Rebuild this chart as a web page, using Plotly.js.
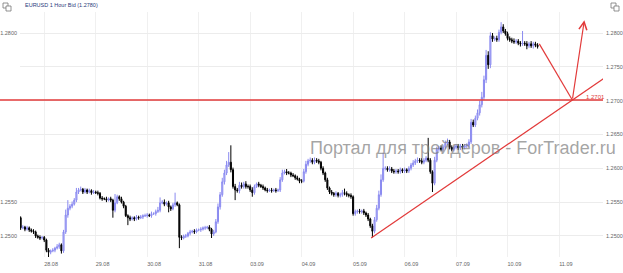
<!DOCTYPE html>
<html><head><meta charset="utf-8">
<script src="https://cdn.plot.ly/plotly-3.0.1.min.js"></script>
<style>html,body{margin:0;padding:0;background:#fff}#c{width:623px;height:273px}</style>
</head><body><div id="c"></div>
<script>
// Hourly closes, EURUSD, 27.08 13:00 -> 10.09 14:00
const closes=[
1.2512,1.2513,1.2510,1.2512,1.2509,1.2507,1.2506,1.2500,1.2498,1.2497,1.2498,
1.2494,1.2479,1.2476,1.2478,1.2479,1.2482,1.2484,1.2487,1.2478,1.2506,1.2531,1.2541,1.2544,1.2547,1.2553,1.2565,1.2568,1.2569,1.2565,1.2568,1.2565,1.2567,1.2564,1.2565,
1.2564,1.2563,1.2556,1.2555,1.2555,1.2553,1.2555,1.2553,1.2538,1.2549,1.2558,1.2555,1.2550,1.2544,1.2530,1.2527,1.2525,1.2527,1.2525,1.2528,1.2527,1.2528,1.2530,1.2530,
1.2531,1.2530,1.2533,1.2533,1.2536,1.2538,1.2549,1.2550,1.2547,1.2549,1.2543,1.2540,1.2546,1.2549,1.2546,1.2498,1.2497,1.2500,1.2500,1.2504,1.2506,1.2507,1.2506,1.2509,
1.2509,1.2510,1.2512,1.2512,1.2513,1.2510,1.2503,1.2506,1.2521,1.2543,1.2561,1.2580,1.2593,1.2605,1.2609,1.2598,1.2573,1.2568,1.2567,1.2575,1.2573,1.2577,1.2573,1.2573,
1.2568,1.2564,1.2573,1.2577,1.2575,1.2573,1.2571,1.2568,1.2567,1.2568,1.2567,1.2568,1.2567,1.2568,1.2583,1.2593,1.2595,1.2593,1.2593,1.2590,1.2589,1.2586,1.2584,1.2581,
1.2581,1.2595,1.2606,1.2611,1.2612,1.2609,1.2612,1.2611,1.2609,1.2600,1.2593,1.2583,1.2571,1.2565,1.2563,1.2561,1.2563,1.2560,1.2561,1.2564,1.2563,1.2561,1.2560,1.2558,
1.2533,1.2536,1.2537,1.2536,1.2537,1.2534,1.2531,1.2525,1.2515,1.2507,1.2524,1.2541,1.2561,1.2583,1.2600,1.2600,1.2598,1.2599,1.2596,1.2595,1.2596,1.2595,1.2598,1.2596,
1.2598,1.2596,1.2600,1.2605,1.2608,1.2611,1.2612,1.2611,1.2609,1.2612,1.2615,1.2612,1.2595,1.2578,1.2612,1.2628,1.2630,1.2628,1.2631,1.2637,1.2639,1.2631,1.2628,1.2631,
1.2633,1.2630,1.2633,1.2631,1.2633,1.2634,1.2639,1.2668,1.2664,1.2674,1.2682,1.2694,1.2705,1.2731,1.2767,1.2753,1.2796,1.2791,1.2792,1.2790,1.2801,1.2809,1.2803,1.2799,
1.2792,1.2790,1.2788,1.2787,1.2788,1.2785,1.2784,1.2785,1.2784,1.2781,1.2784,1.2781,1.2784,1.2782,1.2780];
const firstOpen=1.2527;
// upper / lower wicks in pips beyond the candle body
const upWick=[
2,3,2,3,2,2,3,2,2,3,2,
2,2,3,2,3,2,4,3,2,3,8,12,3,4,3,6,3,4,2,3,2,3,2,3,
2,3,2,3,2,3,2,3,2,13,3,2,3,2,2,2,3,2,2,3,2,3,2,3,
3,2,3,2,3,5,8,3,4,2,3,2,3,15,2,2,3,2,3,2,3,2,3,2,
2,3,2,3,2,3,2,3,4,5,4,6,5,6,15,25,3,4,3,5,4,3,4,3,
3,4,3,2,3,2,3,2,3,2,3,2,3,2,4,5,3,4,3,2,3,2,3,2,
3,4,5,3,4,3,4,3,3,2,3,2,3,2,3,2,3,2,3,4,6,3,2,3,
2,3,2,3,2,3,2,3,2,3,4,5,6,8,23,3,3,4,3,3,3,3,3,2,
3,2,3,3,4,3,4,3,4,3,3,30,3,2,5,4,3,4,3,4,5,3,3,3,
3,3,3,3,3,3,4,5,4,4,5,6,8,6,8,6,5,4,3,4,4,7,4,3,
3,3,3,4,3,3,3,18,3,4,3,4,3,3,3];
const dnWick=[
3,2,3,2,3,2,3,3,2,3,2,
3,3,9,3,2,3,2,3,4,3,3,4,3,3,2,3,3,2,3,2,3,2,3,2,
2,3,2,3,2,3,2,3,11,3,2,3,2,3,2,11,3,2,3,2,3,2,3,2,
3,2,3,2,3,2,3,2,3,2,8,3,2,3,2,16,3,2,3,2,3,2,3,2,
2,3,2,3,2,3,6,3,2,3,4,3,4,3,3,4,3,15,3,4,3,3,3,3,
3,6,3,2,3,2,3,2,3,2,3,2,3,2,3,3,2,3,2,3,2,3,2,3,
3,2,3,3,3,3,3,3,3,3,3,3,3,3,3,3,3,3,3,3,3,3,3,3,
3,3,3,3,3,3,3,3,3,9,3,3,3,3,3,3,3,3,3,3,3,3,3,3,
3,3,3,3,3,3,3,3,3,3,3,3,3,13,3,3,3,3,3,3,3,3,3,3,
3,3,3,3,3,3,3,3,3,3,3,4,4,4,5,6,5,4,3,3,3,3,3,3,
3,3,3,3,3,3,4,3,3,5,3,3,4,3,3];
const dayStarts=[11,35,59,83,107,131,155,179,203,227,251];
const dayLabels=['28.08','29.08','30.08','31.08','03.09','04.09','05.09','06.09','07.09','10.09','11.09'];
const priceTicks=[1.2500,1.2550,1.2600,1.2650,1.2700,1.2750,1.2800];
const leftTicks=[1.2500,1.2550,1.2800];
const levelPrice=1.2701;
const levelLabel='1.2701';
const trendX=[163.4,272.0], trendY=[1.2497,1.2733];
const pathX=[241.8,257.2,262.8], pathY=[1.2784,1.2701,1.2819];
const chartTitle='EURUSD 1 Hour Bid (1.2780)';
const watermark='Портал для трейдеров - ForTrader.ru';

const idx=closes.map((_,i)=>i);
const opens=closes.map((c,i)=>i===0?firstOpen:closes[i-1]);
const highs=closes.map((c,i)=>Math.max(c,opens[i])+upWick[i]/10000);
const lows=closes.map((c,i)=>Math.min(c,opens[i])-dnWick[i]/10000);

const W=623,H=273,L=20,R=20,T=12,B=16;
const pw=W-L-R, ph=H-T-B;
const px=x=>(x-L)/pw, py=y=>(H-B-y)/ph;
const red='#e23a3a';
const tickFont={family:'Liberation Sans, Arial, sans-serif',size:5.5,color:'#666'};

const traces=[{
  type:'candlestick',x:idx,open:opens,high:highs,low:lows,close:closes,
  increasing:{line:{color:'#8a8af0',width:1},fillcolor:'#c4c4f8'},
  decreasing:{line:{color:'#000000',width:1},fillcolor:'#000000'},
  whiskerwidth:0,hoverinfo:'skip',showlegend:false
},{
  type:'scatter',x:[null],y:[null],yaxis:'y2',showlegend:false,hoverinfo:'skip'
}];

const layout={
  width:W,height:H,margin:{l:L,r:R,t:T,b:B},
  paper_bgcolor:'#fff',plot_bgcolor:'#fff',showlegend:false,
  xaxis:{range:[-0.3,271.5],rangeslider:{visible:false},
    tickvals:dayStarts.map(d=>d+3.2),ticktext:dayLabels,
    showgrid:false,zeroline:false,showline:false,ticks:'',
    tickfont:tickFont,ticklabelstandoff:2,
    minor:{tickvals:dayStarts,showgrid:true,gridcolor:'#f0f0f0',gridwidth:1,ticks:''}},
  yaxis:{range:[1.246893,1.283104],side:'right',tickvals:priceTicks,
    ticktext:priceTicks.map(v=>v.toFixed(4)),
    showgrid:true,gridcolor:'#ececec',gridwidth:1,zeroline:false,showline:false,ticks:'',
    tickfont:tickFont,ticklabelstandoff:2},
  yaxis2:{range:[1.246893,1.283104],overlaying:'y',side:'left',tickvals:leftTicks,
    ticktext:leftTicks.map(v=>v.toFixed(4)),showgrid:false,zeroline:false,showline:false,ticks:'',
    tickfont:tickFont,ticklabelstandoff:2},
  shapes:[
    {type:'line',xref:'paper',yref:'y',x0:px(0),x1:1,y0:levelPrice,y1:levelPrice,line:{color:red,width:1.4}},
    {type:'line',xref:'x',yref:'y',x0:trendX[0],x1:trendX[1],y0:trendY[0],y1:trendY[1],line:{color:red,width:1.2}},
    {type:'line',xref:'x',yref:'y',x0:pathX[0],x1:pathX[1],y0:pathY[0],y1:pathY[1],line:{color:red,width:1.2}},
    {type:'rect',xref:'paper',yref:'paper',x0:px(3),x1:px(8),y0:py(8),y1:py(3),line:{color:'#777',width:0.8},fillcolor:'rgba(0,0,0,0)'},
    {type:'rect',xref:'paper',yref:'paper',x0:px(6),x1:px(11),y0:py(11),y1:py(6),line:{color:'#777',width:0.8},fillcolor:'#fff'},
    {type:'rect',xref:'paper',yref:'paper',x0:px(611),x1:px(616),y0:py(8),y1:py(3),line:{color:'#777',width:0.8},fillcolor:'rgba(0,0,0,0)'},
    {type:'rect',xref:'paper',yref:'paper',x0:px(614),x1:px(619),y0:py(11),y1:py(6),line:{color:'#777',width:0.8},fillcolor:'#fff'}
  ],
  annotations:[
    {xref:'paper',yref:'paper',x:px(23),y:py(5),xanchor:'left',yanchor:'middle',showarrow:false,
      text:chartTitle,font:{family:'Liberation Sans, Arial, sans-serif',size:5.5,color:'#2a3a7a'}},
    {xref:'paper',yref:'y',x:px(595),y:levelPrice,yshift:3,xanchor:'center',yanchor:'middle',showarrow:false,
      text:levelLabel,font:{family:'Liberation Sans, Arial, sans-serif',size:6,color:red}},
    {xref:'paper',yref:'paper',x:px(463),y:py(148),xanchor:'center',yanchor:'middle',showarrow:false,
      text:watermark,font:{family:'Liberation Sans, Arial, sans-serif',size:18,color:'rgba(125,125,125,0.7)'}},
    {xref:'x',yref:'y',axref:'x',ayref:'y',x:pathX[2],y:pathY[2],ax:pathX[1],ay:pathY[1],text:'',
      showarrow:true,arrowhead:5,arrowsize:1.3,arrowwidth:1.2,arrowcolor:red}
  ]
};
Plotly.newPlot('c',traces,layout,{staticPlot:true,displayModeBar:false});
</script></body></html>
